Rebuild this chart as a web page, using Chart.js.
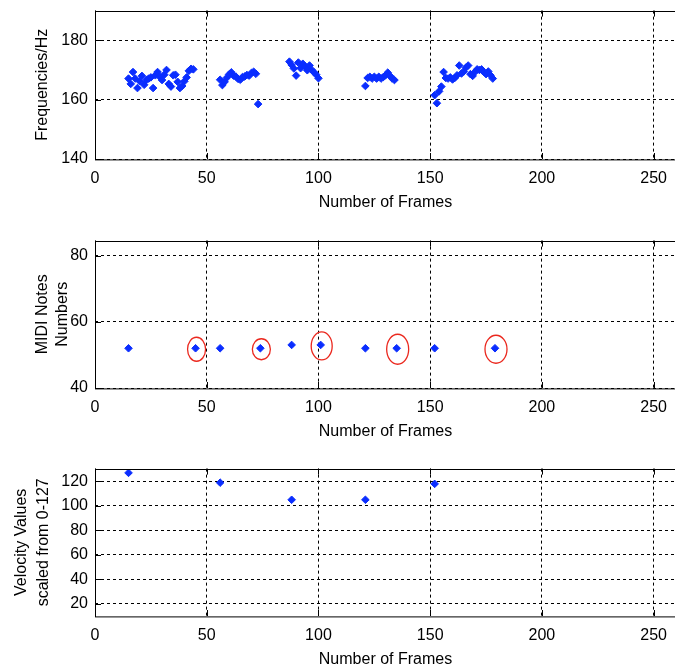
<!DOCTYPE html>
<html>
<head>
<meta charset="utf-8">
<script src="https://cdn.jsdelivr.net/npm/chart.js@4.4.0/dist/chart.umd.min.js"></script>
<style>
  html, body { margin: 0; padding: 0; background: #fff; overflow: hidden; width: 675px; height: 670px; }
  canvas { position: absolute; left: 0; }
</style>
</head>
<body>
<!-- chart area top sits 16.6px below each canvas top (label half-height + tick padding) -->
<canvas id="freqChart" width="681" height="221" style="top:-6px"></canvas>
<canvas id="midiChart" width="681" height="220" style="top:224px"></canvas>
<canvas id="velChart" width="681" height="220" style="top:452px"></canvas>
<script>
// --- pitch track (Hz) per frame ---
let freq_frames = [
  15,16,17,18,19,20,21,22,23,24,25,26,27,28,29,30,31,32,33,34,35,36,37,38,39,40,41,42,43,44,
  56,57,58,59,60,61,62,63,64,65,66,67,68,69,70,71,72,73,
  87,88,89,90,91,92,93,94,95,96,97,98,99,100,
  121,122,123,124,125,126,127,128,129,130,131,132,133,134,
  152,153,154,155,156,157,158,159,160,161,162,163,164,165,166,167,168,169,170,171,172,173,174,175,176,177,178
];
let freq_values = [
  167.1,165.3,169.3,167.1,163.9,166.2,168.0,165.0,166.6,167.1,167.5,163.9,168.2,169.3,167.7,166.6,168.4,170.0,165.3,164.4,168.2,168.4,166.0,163.9,164.6,166.2,167.5,169.7,170.4,170.2,
  166.7,164.9,166.0,167.4,168.5,169.2,168.1,167.8,167.0,166.7,167.6,167.8,168.3,168.1,169.0,169.4,168.7,158.5,
  172.8,171.7,170.5,168.1,172.5,170.6,172.1,171.2,169.9,171.5,170.0,169.2,168.4,167.2,
  164.6,167.3,167.7,167.1,167.7,167.1,167.7,167.1,167.6,168.2,169.1,168.0,167.1,166.6,
  161.5,158.8,162.8,164.4,169.3,167.3,167.1,167.5,166.8,167.3,168.2,171.5,168.8,169.5,170.8,171.5,168.6,168.0,169.3,170.2,170.0,170.2,169.3,168.6,169.5,168.2,167.1
];

// --- MIDI notes per onset ---
let note_frames = [15, 45, 56, 74, 88, 101, 121, 135, 152, 179];
let note_values = [52, 52, 52, 52, 53, 53, 52, 52, 52, 52];
let circled_frames = [45, 74, 101, 135, 179];
let circled_notes = [52, 52, 53, 52, 52];

// --- velocities ---
let vel_frames = [15, 56, 88, 121, 152];
let vel_values = [127, 119, 105, 105, 118];

let x_ticks = [0, 50, 100, 150, 200, 250];
let freq_ticks = [140, 160, 180];
let note_ticks = [40, 60, 80];
let vel_ticks = [20, 40, 60, 80, 100, 120];

const FONT = { family: "'Liberation Sans', Arial, sans-serif", size: 16 };
const BLUE = 'rgb(10, 45, 255)';

const boxPlugin = {
  id: 'matlabBox',
  afterDraw(chart) {
    const { ctx, chartArea: a, scales: { x, y } } = chart;
    ctx.save();
    ctx.strokeStyle = '#000';
    ctx.lineWidth = 1;
    ctx.setLineDash([]);
    ctx.strokeRect(Math.round(a.left) + 0.5, Math.round(a.top) + 0.5, a.right - a.left, a.bottom - a.top);
    ctx.beginPath();
    x.ticks.forEach(t => {
      const px = Math.round(x.getPixelForValue(t.value)) + 0.5;
      ctx.moveTo(px, a.top); ctx.lineTo(px, a.top + 6);
      ctx.moveTo(px, a.bottom); ctx.lineTo(px, a.bottom - 6);
    });
    y.ticks.forEach(t => {
      const py = Math.round(y.getPixelForValue(t.value)) + 0.5;
      ctx.moveTo(a.left, py); ctx.lineTo(a.left + 6, py);
    });
    ctx.stroke();
    ctx.restore();
  }
};

// red hand-drawn rings around some notes
const ringPlugin = {
  id: 'rings',
  afterDatasetsDraw(chart) {
    if (chart.canvas.id !== 'midiChart') return;
    const { ctx, scales: { x, y } } = chart;
    const rx = [9, 9, 10.5, 11, 11];
    const ry = [12, 10.5, 14, 15, 14];
    ctx.save();
    ctx.strokeStyle = 'rgb(235, 40, 30)';
    ctx.lineWidth = 1.3;
    circled_frames.forEach((f, i) => {
      const cx = x.getPixelForValue(f) + 1;
      const cy = y.getPixelForValue(circled_notes[i]) + 1;
      ctx.beginPath();
      ctx.ellipse(cx, cy, rx[i], ry[i], 0, 0, Math.PI * 2);
      ctx.stroke();
    });
    ctx.restore();
  }
};

function makeChart(id, frames, values, yMin, yMax, yTicks, yTitle, titlePad, titleLH) {
  const points = frames.map((f, i) => ({ x: f, y: values[i] }));
  return new Chart(document.getElementById(id), {
    type: 'scatter',
    data: {
      datasets: [{
        data: points,
        pointStyle: 'rectRot',
        pointRadius: 3.8,
        backgroundColor: BLUE,
        borderColor: BLUE,
        borderWidth: 1
      }]
    },
    options: {
      responsive: false,
      animation: false,
      devicePixelRatio: 1,
      layout: { padding: 0 },
      plugins: { legend: { display: false }, tooltip: { enabled: false } },
      scales: {
        x: {
          type: 'linear', min: 0, max: 260,
          afterFit: s => { s.height = 56; },
          afterBuildTicks: s => { s.ticks = x_ticks.map(v => ({ value: v })); },
          ticks: { color: '#000', font: FONT, padding: 10, maxRotation: 0 },
          grid: { color: '#000', lineWidth: 1, drawTicks: false },
          border: { display: false, dash: [3, 3] },
          title: { display: true, text: 'Number of Frames', color: '#000', font: FONT, padding: { top: 0, bottom: 3 } }
        },
        y: {
          type: 'linear', min: yMin, max: yMax,
          afterFit: s => { s.width = 95; },
          afterBuildTicks: s => { s.ticks = yTicks.map(v => ({ value: v })); },
          ticks: { color: '#000', font: FONT, padding: 7 },
          grid: { color: '#000', lineWidth: 1, drawTicks: false },
          border: { display: false, dash: [3, 3] },
          title: { display: true, text: yTitle, color: '#000', font: Object.assign({}, FONT, { lineHeight: titleLH }), padding: { top: titlePad, bottom: 0 } }
        }
      }
    },
    plugins: [boxPlugin, ringPlugin]
  });
}

makeChart('freqChart', freq_frames, freq_values, 140, 190, freq_ticks, 'Frequencies/Hz', 32.5, 1.2);
makeChart('midiChart', note_frames, note_values, 40, 84.5, note_ticks, ['MIDI Notes', 'Numbers'], 33.4, 1.2);
makeChart('velChart', vel_frames, vel_values, 10, 130.5, vel_ticks, ['Velocity Values', 'scaled from 0-127'], 11, 1.375);
</script>
</body>
</html>
